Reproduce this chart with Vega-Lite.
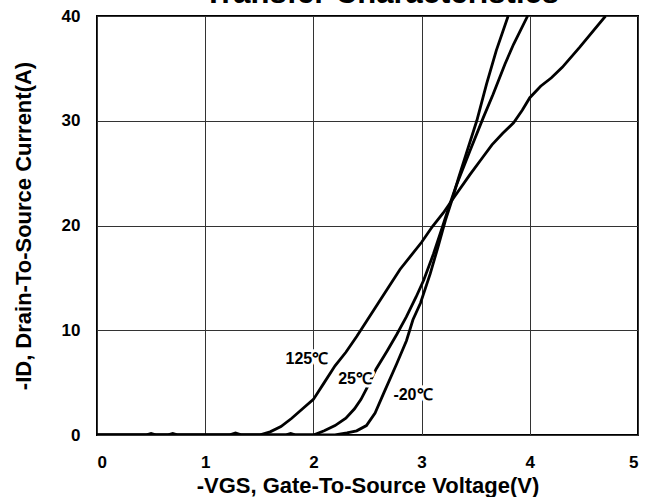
{
  "$schema": "https://vega.github.io/schema/vega-lite/v6.json",
  "width": 541,
  "height": 419,
  "autosize": {"type": "none"},
  "padding": {"left": 97, "top": 16, "right": 8, "bottom": 62},
  "title": {"text": "Transfer Characteristics", "fontSize": 31, "font": "Liberation Sans", "fontWeight": "bold", "color": "#000", "anchor": "middle", "frame": "group", "offset": -3, "dx": 14},
  "config": {
    "view": {"stroke": "#000", "strokeWidth": 2},
    "axis": {"labelFont": "Liberation Sans", "labelFontWeight": "bold", "labelFontSize": 17, "labelColor": "#000", "titleFont": "Liberation Sans", "titleFontWeight": "bold", "titleFontSize": 22, "titleColor": "#000", "tickSize": 0, "domain": false, "grid": true, "gridColor": "#333", "gridWidth": 1, "gridOpacity": 1, "format": "d"}
  },
  "datasets": {
    "curves": [
      {"series": "125", "v": 0, "i": 0}, {"series": "125", "v": 0.45, "i": 0}, {"series": "125", "v": 0.5, "i": 0.15}, {"series": "125", "v": 0.55, "i": 0},
      {"series": "125", "v": 0.65, "i": 0}, {"series": "125", "v": 0.7, "i": 0.15}, {"series": "125", "v": 0.75, "i": 0},
      {"series": "125", "v": 1.22, "i": 0}, {"series": "125", "v": 1.28, "i": 0.2}, {"series": "125", "v": 1.34, "i": 0},
      {"series": "125", "v": 1.5, "i": 0}, {"series": "125", "v": 1.6, "i": 0.3}, {"series": "125", "v": 1.7, "i": 0.8},
      {"series": "125", "v": 1.8, "i": 1.6}, {"series": "125", "v": 1.9, "i": 2.5}, {"series": "125", "v": 2.0, "i": 3.4},
      {"series": "125", "v": 2.1, "i": 5.0}, {"series": "125", "v": 2.2, "i": 6.6}, {"series": "125", "v": 2.3, "i": 7.9},
      {"series": "125", "v": 2.4, "i": 9.4}, {"series": "125", "v": 2.5, "i": 11.0}, {"series": "125", "v": 2.6, "i": 12.6},
      {"series": "125", "v": 2.7, "i": 14.2}, {"series": "125", "v": 2.8, "i": 15.8}, {"series": "125", "v": 2.9, "i": 17.1},
      {"series": "125", "v": 3.0, "i": 18.4}, {"series": "125", "v": 3.1, "i": 19.9}, {"series": "125", "v": 3.2, "i": 21.2},
      {"series": "125", "v": 3.3, "i": 22.7}, {"series": "125", "v": 3.45, "i": 24.9}, {"series": "125", "v": 3.55, "i": 26.3},
      {"series": "125", "v": 3.65, "i": 27.7}, {"series": "125", "v": 3.75, "i": 28.8}, {"series": "125", "v": 3.85, "i": 29.8},
      {"series": "125", "v": 3.93, "i": 31.0}, {"series": "125", "v": 4.0, "i": 32.2}, {"series": "125", "v": 4.1, "i": 33.3},
      {"series": "125", "v": 4.2, "i": 34.1}, {"series": "125", "v": 4.3, "i": 35.1}, {"series": "125", "v": 4.46, "i": 37.0},
      {"series": "125", "v": 4.7, "i": 40.0},
      {"series": "25", "v": 0, "i": 0}, {"series": "25", "v": 1.74, "i": 0}, {"series": "25", "v": 1.79, "i": 0.15}, {"series": "25", "v": 1.84, "i": 0},
      {"series": "25", "v": 2.0, "i": 0}, {"series": "25", "v": 2.1, "i": 0.4}, {"series": "25", "v": 2.2, "i": 0.9},
      {"series": "25", "v": 2.3, "i": 1.6}, {"series": "25", "v": 2.38, "i": 2.5}, {"series": "25", "v": 2.44, "i": 3.4},
      {"series": "25", "v": 2.5, "i": 4.6}, {"series": "25", "v": 2.58, "i": 6.3}, {"series": "25", "v": 2.68, "i": 8.0},
      {"series": "25", "v": 2.77, "i": 9.6}, {"series": "25", "v": 2.86, "i": 11.3}, {"series": "25", "v": 2.95, "i": 13.2},
      {"series": "25", "v": 3.02, "i": 14.8}, {"series": "25", "v": 3.11, "i": 17.3}, {"series": "25", "v": 3.19, "i": 19.8},
      {"series": "25", "v": 3.26, "i": 22.0}, {"series": "25", "v": 3.32, "i": 23.8}, {"series": "25", "v": 3.45, "i": 27.2},
      {"series": "25", "v": 3.57, "i": 30.3}, {"series": "25", "v": 3.66, "i": 32.5}, {"series": "25", "v": 3.77, "i": 35.4},
      {"series": "25", "v": 3.85, "i": 37.3}, {"series": "25", "v": 3.98, "i": 40.0},
      {"series": "-20", "v": 0, "i": 0}, {"series": "-20", "v": 2.2, "i": 0}, {"series": "-20", "v": 2.31, "i": 0.2},
      {"series": "-20", "v": 2.4, "i": 0.4}, {"series": "-20", "v": 2.49, "i": 0.9}, {"series": "-20", "v": 2.57, "i": 2.1},
      {"series": "-20", "v": 2.65, "i": 4.0}, {"series": "-20", "v": 2.77, "i": 6.8}, {"series": "-20", "v": 2.86, "i": 9.0},
      {"series": "-20", "v": 2.92, "i": 11.0}, {"series": "-20", "v": 2.99, "i": 12.6}, {"series": "-20", "v": 3.08, "i": 15.4},
      {"series": "-20", "v": 3.15, "i": 17.9}, {"series": "-20", "v": 3.22, "i": 20.5}, {"series": "-20", "v": 3.28, "i": 22.4},
      {"series": "-20", "v": 3.34, "i": 24.5}, {"series": "-20", "v": 3.42, "i": 27.1}, {"series": "-20", "v": 3.51, "i": 30.0},
      {"series": "-20", "v": 3.6, "i": 33.5}, {"series": "-20", "v": 3.69, "i": 36.7}, {"series": "-20", "v": 3.8, "i": 40.0}
    ],
    "labels": [
      {"label": "125℃", "v": 1.94, "i": 7.3},
      {"label": "25℃", "v": 2.385, "i": 5.35},
      {"label": "-20℃", "v": 2.92, "i": 3.8}
    ]
  },
  "layer": [
    {
      "data": {"name": "curves"},
      "mark": {"type": "line", "color": "#000", "strokeWidth": 2.8, "clip": true},
      "encoding": {
        "x": {"field": "v", "type": "quantitative", "scale": {"domain": [0, 5], "nice": false}, "axis": {"values": [0, 1, 2, 3, 4, 5], "labelPadding": 19, "title": "-VGS, Gate-To-Source Voltage(V)", "titlePadding": 5}},
        "y": {"field": "i", "type": "quantitative", "scale": {"domain": [0, 40], "nice": false}, "axis": {"values": [0, 10, 20, 30, 40], "labelPadding": 17, "title": "-ID, Drain-To-Source Current(A)", "titlePadding": 26}},
        "detail": {"field": "series", "type": "nominal"},
        "order": {"field": "v", "type": "quantitative"}
      }
    },
    {
      "data": {"name": "labels"},
      "mark": {"type": "text", "font": "Liberation Sans", "fontWeight": "bold", "fontSize": 16, "fill": "#fff", "stroke": "#fff", "strokeWidth": 6, "strokeJoin": "round"},
      "encoding": {
        "x": {"field": "v", "type": "quantitative"},
        "y": {"field": "i", "type": "quantitative"},
        "text": {"field": "label", "type": "nominal"}
      }
    },
    {
      "data": {"name": "labels"},
      "mark": {"type": "text", "font": "Liberation Sans", "fontWeight": "bold", "fontSize": 16, "color": "#000"},
      "encoding": {
        "x": {"field": "v", "type": "quantitative"},
        "y": {"field": "i", "type": "quantitative"},
        "text": {"field": "label", "type": "nominal"}
      }
    }
  ]
}
